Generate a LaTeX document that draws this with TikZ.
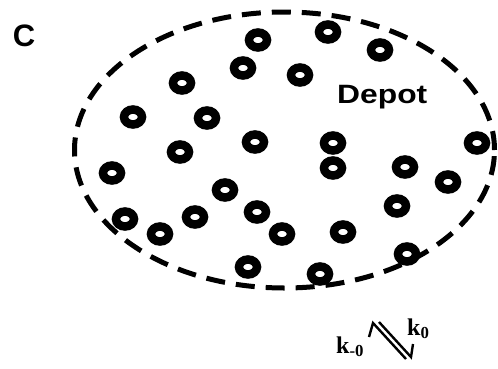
\documentclass[tikz,border=0pt]{standalone}
\usepackage{fontspec}
\setmainfont{Liberation Serif}
\setsansfont{Liberation Sans}
\usetikzlibrary{shapes.geometric}
\begin{document}
\begin{tikzpicture}[x=1pt,y=-1pt,
  ring/.style={ellipse,draw,line width=8.5pt,minimum width=18pt,minimum height=15pt,inner sep=0pt},
  border/.style={ellipse,draw,line width=5pt,dash pattern=on 19pt off 11pt,minimum width=420pt,minimum height=276pt,inner sep=0pt},
  eqline/.style={line width=2.4pt,line cap=butt,line join=miter},
  klabel/.style={font=\fontsize{24}{26}\selectfont\bfseries,inner sep=0pt}]
\useasboundingbox (0,0) rectangle (498,368);
\node[border] (depotarea) at (284.5,150) {};
\node[font=\sffamily\bfseries\fontsize{31}{33}\selectfont,inner sep=0pt] (lab) at (24,36) {C};
\node[font=\sffamily\bfseries\fontsize{26.5}{28}\selectfont,inner sep=0pt,anchor=base west] (depot) at (337,103) {\scalebox{1.2}[1]{Depot}};
\foreach \i/\x/\y in {1/258/40,2/328/32,3/380/50,4/243/68,5/300/75,6/182/83,7/133/117,8/207/118,9/255/142,10/333/143,11/477/143,12/180/152,13/333/168,14/405/167,15/112/173,16/448/182,17/225/190,18/257/212,19/195/217,20/125/219,21/160/234,22/282/234,23/343/232,24/397/206,25/407/254,26/248/267,27/320/274}
  \node[ring] (r\i) at (\x,\y) {};
\node[klabel,anchor=base west] (km) at (336,353) {k\textsubscript{-0}};
\node[klabel,anchor=base west] (kp) at (407,335) {k\textsubscript{0}};
\coordinate (a1) at (373,323);
\coordinate (a2) at (406,359);
\coordinate (b1) at (379,322);
\coordinate (b2) at (411,357);
\draw[eqline] (369,337) -- (a1) -- (a2);
\draw[eqline] (b1) -- (b2) -- (413,344);
\end{tikzpicture}
\end{document}
